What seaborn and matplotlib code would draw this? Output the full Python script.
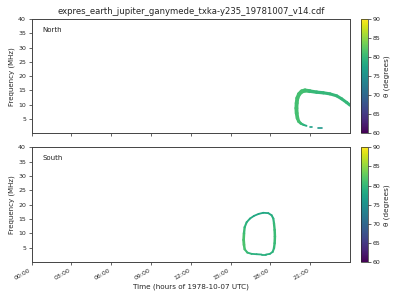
import numpy as np
import pandas as pd
import matplotlib
matplotlib.use("Agg")
import matplotlib.pyplot as plt
import seaborn as sns
from matplotlib.colors import Normalize
from matplotlib.cm import ScalarMappable

sns.set_style("ticks")
plt.rcParams['font.family'] = ['DejaVu Sans']

# ---------------- data ----------------
title = "expres_earth_jupiter_ganymede_txka-y235_19781007_v14.cdf"
hemispheres = ["North", "South"]
hour_ticks = [0, 3, 6, 9, 12, 15, 18, 21]
hour_labels = ["00:00", "03:00", "06:00", "09:00", "12:00", "15:00", "18:00", "21:00"]
freq_ticks = [5, 10, 15, 20, 25, 30, 35, 40]
cbar_ticks = [60, 65, 70, 75, 80, 85, 90]

# North emission: time (h), frequency (MHz), theta (deg), piece id
north_time = [21.88, 21.60, 21.15, 20.98, 20.72, 20.50, 20.30, 20.14, 20.04, 19.98,
              19.96, 19.98, 20.03, 20.16, 20.36, 20.61, 20.98, 21.49, 21.99, 22.49,
              23.00, 23.37, 23.75, 24.00]
north_freq = [1.85, 1.85, 2.20, 2.20, 2.58, 2.93, 3.40, 4.10, 5.27, 7.03,
              8.78, 10.54, 12.30, 13.70, 14.64, 14.99, 14.75, 14.40, 14.17, 13.80,
              13.10, 12.06, 10.77, 9.84]
north_theta = [76, 76, 77, 77, 78, 79, 80, 81, 81, 81,
               81, 81, 81, 81, 81, 81, 80.5, 80, 80, 80,
               80, 80, 80, 80]
north_piece = [0, 0, 1, 1, 2, 2, 2, 2, 2, 2,
               2, 2, 2, 2, 2, 2, 2, 2, 2, 2,
               2, 2, 2, 2]
north_width = [1.2, 1.2, 1.2, 1.2, 1.3, 1.5, 1.8, 2.2, 2.5, 2.8,
               2.8, 2.8, 2.8, 2.9, 3.0, 3.0, 2.6, 2.4, 2.3, 2.2,
               2.2, 2.2, 2.2, 2.2]

# South emission (closed loop)
south_time = [17.34, 16.96, 16.58, 16.26, 16.06, 16.01, 15.98, 16.01, 16.06, 16.21,
              16.46, 16.76, 17.11, 17.46, 17.84, 18.09, 18.22, 18.27, 18.32, 18.34,
              18.32, 18.27, 18.17, 17.96, 17.66, 17.34]
south_freq = [2.67, 2.78, 2.90, 3.36, 4.52, 6.03, 7.77, 10.09, 12.17, 13.91,
              15.19, 16.12, 16.81, 17.20, 17.08, 16.35, 15.19, 13.57, 11.25, 8.93,
              6.61, 4.87, 3.59, 2.90, 2.67, 2.67]
south_theta = [79, 79, 79, 80, 81, 81.5, 81.5, 81, 80, 79,
               78.5, 78, 78, 78, 78, 78.5, 79, 80, 80.5, 80.5,
               80.5, 80, 79.5, 79, 79, 79]
south_width = [1.3, 1.3, 1.3, 1.4, 1.6, 2.0, 2.0, 1.8, 1.6, 1.4,
               1.3, 1.3, 1.3, 1.3, 1.3, 1.4, 1.5, 1.6, 1.8, 1.8,
               1.8, 1.6, 1.4, 1.3, 1.3, 1.3]

cmap = plt.get_cmap("viridis")
norm = Normalize(vmin=60, vmax=90)


def draw_track(ax, t, f, th, widths, pieces):
    rows = []
    seg_colors = {}
    seg_widths = {}
    for i in range(len(t) - 1):
        if pieces[i] != pieces[i + 1]:
            continue
        key = f"s{i}"
        rows.append({"time": t[i], "freq": f[i], "seg": key})
        rows.append({"time": t[i + 1], "freq": f[i + 1], "seg": key})
        seg_colors[key] = cmap(norm(0.5 * (th[i] + th[i + 1])))
        seg_widths[key] = 0.5 * (widths[i] + widths[i + 1])
    df = pd.DataFrame(rows)
    for key, sub in df.groupby("seg", sort=False):
        sns.lineplot(data=sub, x="time", y="freq", ax=ax, sort=False,
                     estimator=None, color=seg_colors[key],
                     linewidth=seg_widths[key], solid_capstyle="round",
                     legend=False)


fig = plt.figure(figsize=(4, 3), dpi=100)
ax_top = fig.add_axes([0.079, 0.556, 0.796, 0.380])
ax_bot = fig.add_axes([0.079, 0.126, 0.796, 0.383])
cax_top = fig.add_axes([0.902, 0.556, 0.018, 0.380])
cax_bot = fig.add_axes([0.902, 0.126, 0.018, 0.383])

draw_track(ax_top, north_time, north_freq, north_theta, north_width, north_piece)
draw_track(ax_bot, south_time, south_freq, south_theta, south_width,
           [0] * len(south_time))

for ax, name, cax in zip([ax_top, ax_bot], hemispheres, [cax_top, cax_bot]):
    ax.set_xlim(0, 24)
    ax.set_ylim(0, 40)
    ax.set_yticks(freq_ticks)
    ax.set_xticks(hour_ticks)
    ax.tick_params(labelsize=4.5, length=2.5, width=0.5, pad=1.5)
    ax.set_ylabel("Frequency (MHz)", fontsize=5.0, labelpad=2.5)
    ax.set_xlabel("")
    ax.text(0.035, 0.93, name, transform=ax.transAxes, fontsize=5,
            va="top", ha="left", color="#222222")
    for sp in ax.spines.values():
        sp.set_linewidth(0.7)
        sp.set_color("#444444")
    sm = ScalarMappable(norm=norm, cmap=cmap)
    cb = fig.colorbar(sm, cax=cax, ticks=cbar_ticks)
    cb.ax.tick_params(labelsize=4.5, length=2, width=0.5, pad=1.5)
    cb.set_label("θ (degrees)", fontsize=5.2, labelpad=2)
    cb.outline.set_linewidth(0.5)

ax_top.set_xticklabels([])
ax_bot.set_xticklabels(hour_labels, rotation=30, ha="right")
ax_bot.set_xlabel("Time (hours of 1978-10-07 UTC)", fontsize=5.2, labelpad=2)
ax_top.set_title(title, fontsize=6.1, pad=4)

fig.savefig("out.png", dpi=100)
